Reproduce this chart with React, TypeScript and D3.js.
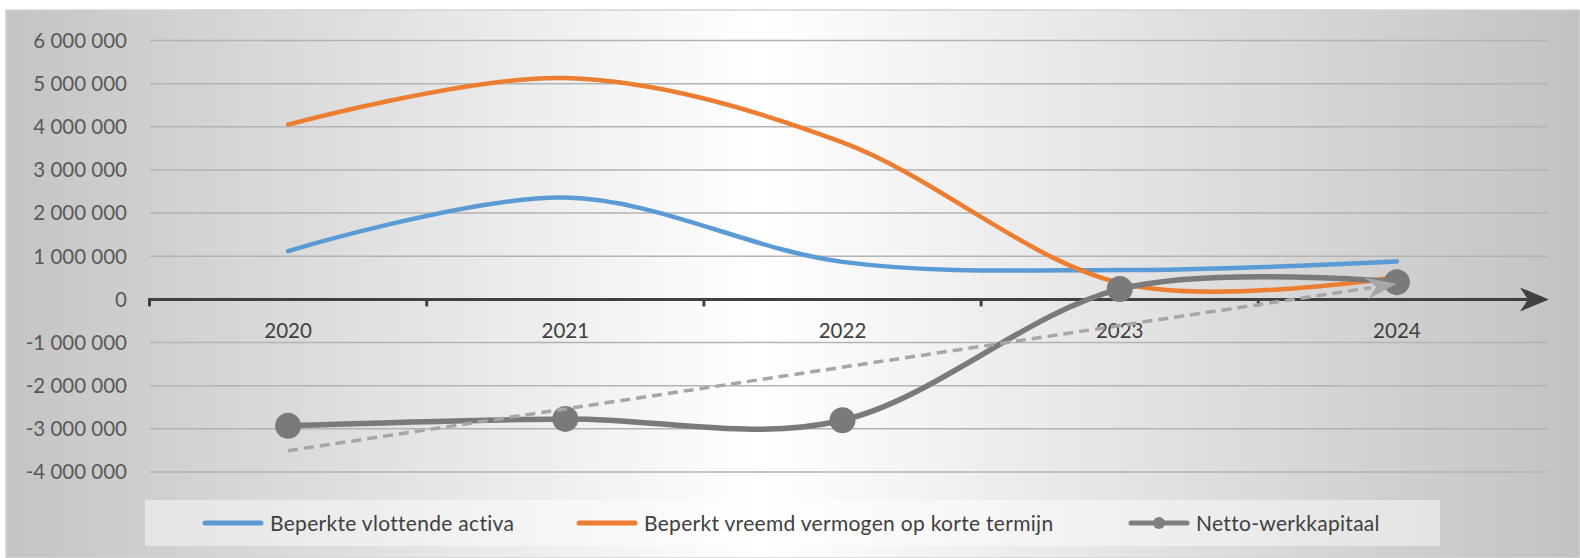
import React from 'react'
import * as d3 from 'd3'

const years = ['2020', '2021', '2022', '2023', '2024']
const vlottendeActiva = [1120000, 2360000, 870000, 680000, 880000]
const vreemdVermogen = [4050000, 5130000, 3640000, 380000, 520000]
const nettoWerkkapitaal = [-2930000, -2770000, -2800000, 240000, 400000]
const yTicks = [6000000, 5000000, 4000000, 3000000, 2000000, 1000000, 0, -1000000, -2000000, -3000000, -4000000]

const legendItems = [
  { label: 'Beperkte vlottende activa', color: '#5b9bd5', marker: false, x: 205 },
  { label: 'Beperkt vreemd vermogen op korte termijn', color: '#ed7d31', marker: false, x: 579 },
  { label: 'Netto-werkkapitaal', color: '#7f7f7f', marker: true, x: 1131 }
]

const W = 1580
const H = 558
const FONT = 'Lato, "Open Sans", sans-serif'

const fmt = (v: number) => {
  if (v === 0) return '0'
  const s = d3.format(',')(Math.abs(v)).replace(/,/g, ' ')
  return (v < 0 ? '-' : '') + s
}

export default function App () {
  const x = d3.scaleBand().domain(years).range([149.5, 1535.5])
  const y = d3.scaleLinear().domain([-4000000, 6000000]).range([472, 40.5])
  const cx = (d: string) => (x(d) as number) + x.bandwidth() / 2

  // smoothed lines like Excel
  const line = d3.line<number>()
    .x((d, i) => cx(years[i]))
    .y(d => y(d))
    .curve(d3.curveCardinal.tension(0))

  // linear trend for netto-werkkapitaal
  const idx = years.map((d, i) => i)
  const mx = d3.mean(idx) as number
  const my = d3.mean(nettoWerkkapitaal) as number
  const slope = d3.sum(idx, i => (i - mx) * (nettoWerkkapitaal[i] - my)) / d3.sum(idx, i => (i - mx) ** 2)
  const trendY = (i: number) => my + slope * (i - mx)
  const tx0 = cx(years[0])
  const ty0 = y(trendY(0))
  const tx1 = cx(years[years.length - 1])
  const ty1 = y(trendY(years.length - 1))
  const ang = Math.atan2(ty1 - ty0, tx1 - tx0)
  const headLen = 26
  const bx = tx1 - headLen * Math.cos(ang)
  const by = ty1 - headLen * Math.sin(ang)
  const px = -Math.sin(ang)
  const py = Math.cos(ang)

  const axisY = y(0)
  const axisEnd = 1549

  return (
    <svg width={W} height={H} style={{ position: 'fixed', left: 0, top: 0 }}>
      <defs>
        <linearGradient id="bg" x1="0" x2="1" y1="0" y2="0">
          <stop offset="0" stopColor="#c4c4c4" />
          <stop offset="0.48" stopColor="#ffffff" />
          <stop offset="1" stopColor="#c2c2c2" />
        </linearGradient>
      </defs>
      <rect x={6} y={10} width={W - 6} height={H - 10} fill="url(#bg)" stroke="#d4d4d4" strokeWidth={1.5} />

      {/* gridlines + y labels */}
      {yTicks.map(t => (
        <g key={t}>
          {t !== 0 && <line x1={150} x2={1548} y1={y(t)} y2={y(t)} stroke="#b3b3b3" strokeWidth={1.5} />}
          <text x={127} y={y(t)} dy="0.36em" textAnchor="end" fontFamily={FONT} fontSize={20.5} fill="#595959">{fmt(t)}</text>
        </g>
      ))}

      {/* category labels */}
      {years.map(d => (
        <text key={d} x={cx(d)} y={338} textAnchor="middle" fontFamily={FONT} fontSize={20.5} fill="#404040">{d}</text>
      ))}

      {/* x axis with ticks and arrow */}
      {years.map(d => (
        <line key={d} x1={x(d)} x2={x(d)} y1={axisY} y2={axisY + 7} stroke="#404040" strokeWidth={3} />
      ))}
      <line x1={148} x2={axisEnd - 6} y1={axisY} y2={axisY} stroke="#404040" strokeWidth={3} />
      <path d={`M${axisEnd},${axisY} L${axisEnd - 29},${axisY - 12} L${axisEnd - 21},${axisY} L${axisEnd - 29},${axisY + 12} Z`} fill="#404040" />

      {/* series */}
      <path d={line(vlottendeActiva) as string} fill="none" stroke="#5b9bd5" strokeWidth={4.5} strokeLinecap="round" />
      <path d={line(vreemdVermogen) as string} fill="none" stroke="#ed7d31" strokeWidth={4.5} strokeLinecap="round" />
      <path d={line(nettoWerkkapitaal) as string} fill="none" stroke="#7a7a7a" strokeWidth={5.5} strokeLinecap="round" />
      {nettoWerkkapitaal.map((v, i) => (
        <circle key={i} cx={cx(years[i])} cy={y(v)} r={13} fill="#7a7a7a" />
      ))}

      {/* trendline */}
      <line x1={tx0} y1={ty0} x2={bx} y2={by} stroke="#a6a6a6" strokeWidth={3.5} strokeDasharray="10 6" />
      <path
        d={`M${tx1},${ty1} L${bx + 11 * px - 5 * Math.cos(ang)},${by + 11 * py - 5 * Math.sin(ang)} L${bx + 5 * Math.cos(ang)},${by + 5 * Math.sin(ang)} L${bx - 11 * px - 5 * Math.cos(ang)},${by - 11 * py - 5 * Math.sin(ang)} Z`}
        fill="#a6a6a6"
      />

      {/* legend */}
      <rect x={145} y={500} width={1295} height={46} fill="#ffffff" fillOpacity={0.45} />
      {legendItems.map(it => (
        <g key={it.label}>
          <line x1={it.x} x2={it.x + 56} y1={523} y2={523} stroke={it.color} strokeWidth={5} strokeLinecap="round" />
          {it.marker && <circle cx={it.x + 28} cy={523} r={6} fill={it.color} />}
          <text x={it.x + 65} y={523} dy="0.36em" fontFamily={FONT} fontSize={21} letterSpacing={0.3} fill="#404040">{it.label}</text>
        </g>
      ))}
    </svg>
  )
}
